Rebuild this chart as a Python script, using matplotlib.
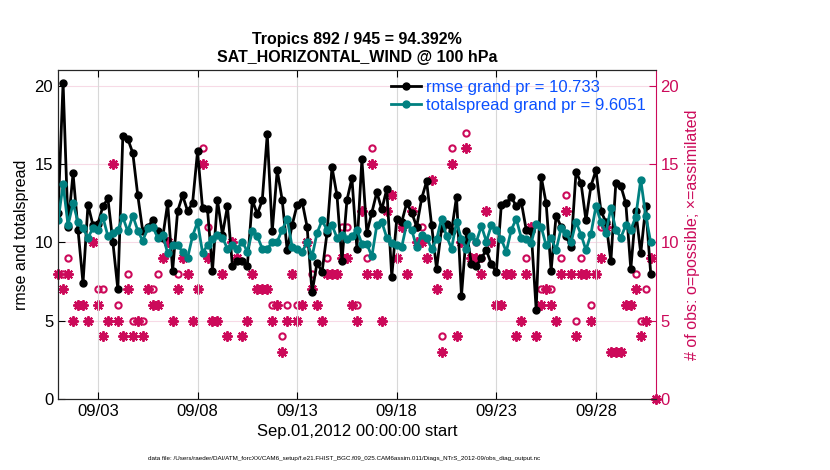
import matplotlib
matplotlib.use("Agg")
import matplotlib.pyplot as plt
import matplotlib.dates as mdates
import numpy as np
import pandas as pd

plt.rcParams['font.family'] = ['Liberation Sans', 'DejaVu Sans']

# 6-hourly bins, Sep 1 00Z to Oct 1 00Z
times = pd.date_range('2012-09-01 00:00', periods=121, freq='6h')

rmse = [11.9, 20.2, 11.0, 14.4, 10.8, 7.4, 12.4, 11.1, 11.2, 12.3,
        12.8, 10.0, 7.0, 16.8, 16.6, 15.7, 13.0, 10.7, 11.0, 11.4,
        10.7, 10.3, 12.5, 8.2, 12.0, 13.0, 12.0, 12.5, 15.8, 12.2,
        12.1, 8.2, 12.7, 10.5, 12.3, 8.5, 8.8, 8.8, 8.5, 12.7,
        11.8, 12.7, 16.9, 10.7, 14.6, 12.7, 9.5, 11.1, 12.4, 12.6,
        11.0, 6.8, 8.7, 8.1, 10.6, 14.8, 13.0, 8.8, 12.7, 14.1,
        9.6, 15.3, 10.6, 11.9, 13.2, 12.1, 13.4, 7.8, 11.5, 11.3,
        12.5, 11.9, 11.0, 12.8, 13.9, 11.1, 8.3, 10.9, 11.2, 10.7,
        12.9, 6.6, 10.7, 8.6, 8.5, 9.0, 9.5, 8.6, 8.1, 12.4,
        12.5, 12.9, 12.3, 12.6, 10.8, 10.7, 5.7, 14.2, 12.5, 8.2,
        11.7, 11.0, 10.4, 9.7, 14.5, 13.8, 11.4, 13.6, 14.6, 12.0,
        11.3, 8.8, 13.8, 13.6, 12.5, 8.3, 12.0, 9.3, 12.3, 8.0,
        np.nan]

spread = [11.4, 13.7, 11.1, 12.5, 11.3, 10.9, 10.3, 10.9, 10.8, 11.6,
          10.4, 10.6, 10.8, 11.6, 10.7, 11.7, 10.75, 10.1, 10.9, 11.0,
          10.3, 10.5, 9.3, 9.8, 9.8, 9.4, 9.0, 10.4, 11.3, 9.35,
          9.8, 10.2, 10.5, 10.3, 9.6, 9.8, 9.6, 10.05, 9.4, 10.7,
          10.4, 9.6, 9.6, 10.0, 10.05, 10.8, 11.5, 9.7, 9.6, 9.4,
          10.0, 9.1, 10.6, 11.4, 10.8, 11.1, 10.3, 10.5, 10.2, 10.4,
          10.8, 9.9, 9.9, 9.1, 11.1, 11.3, 10.3, 9.95, 9.8, 9.7,
          11.2, 10.8, 9.7, 10.5, 10.3, 9.6, 10.2, 11.5, 10.4, 9.6,
          11.3, 10.2, 9.6, 10.4, 10.05, 11.05, 10.05, 11.1, 10.8, 10.2,
          9.4, 10.8, 11.5, 10.3, 10.2, 9.95, 11.2, 11.0, 9.8, 10.3,
          9.5, 10.9, 10.6, 10.0, 11.3, 10.5, 9.5, 10.55, 12.3, 11.3,
          10.6, 12.2, 10.8, 10.3, 11.1, 10.8, 11.65, 14.0, 11.7, 10.0,
          np.nan]

nposs = [8, 8, 9, 5, 6, 6, 5, 10, 7, 7,
         5, 15, 6, 4, 8, 5, 5, 5, 7, 7,
         8, 9, 10, 5, 8, 9, 8, 5, 7, 16,
         11, 5, 5, 8, 4, 10, 9, 4, 5, 8,
         7, 7, 7, 6, 6, 4, 6, 8, 6, 6,
         10, 8, 6, 5, 9, 8, 8, 11, 11, 6,
         6, 12, 9, 16, 8, 5, 12, 13, 9, 11,
         8, 12, 11, 11, 9, 14, 7, 4, 8, 16,
         4, 10, 17, 9, 10, 9, 12, 10, 6, 6,
         8, 8, 4, 5, 9, 11, 4, 7, 7, 7,
         5, 9, 13, 10, 5, 9, 8, 6, 8, 11,
         11, 3, 3, 3, 6, 6, 8, 5, 7, 9,
         0]

nused = [8, 7, 8, 5, 6, 6, 5, 10, 6, 4,
         5, 15, 5, 4, 7, 4, 5, 4, 7, 6,
         6, 9, 10, 5, 7, 9, 8, 5, 7, 15,
         9, 5, 5, 8, 4, 10, 9, 4, 5, 8,
         7, 7, 7, 5, 6, 3, 5, 8, 5, 6,
         10, 7, 6, 5, 8, 8, 8, 9, 9, 6,
         5, 12, 8, 15, 8, 5, 12, 13, 9, 11,
         8, 12, 10, 10, 9, 14, 7, 3, 8, 15,
         4, 10, 16, 9, 9, 8, 12, 10, 6, 6,
         8, 8, 4, 5, 8, 11, 4, 6, 7, 6,
         5, 8, 12, 8, 4, 8, 8, 5, 8, 9,
         11, 3, 3, 3, 6, 6, 7, 4, 5, 9,
         0]

title = "Tropics 892 / 945 = 94.392%\nSAT_HORIZONTAL_WIND @ 100 hPa"
rmse_label = "rmse grand pr = 10.733"
spread_label = "totalspread grand pr = 9.6051"
datafile = ("data file: /Users/raeder/DAI/ATM_forcXX/CAM6_setup/"
            "f.e21.FHIST_BGC.f09_025.CAM6assim.011/Diags_NTrS_2012-09/obs_diag_output.nc")

magenta = '#cc0a5a'
teal = '#008080'

fig = plt.figure(figsize=(8.3, 4.7), dpi=100)
ax = fig.add_axes([0.070, 0.151, 0.720, 0.700])
ax2 = ax.twinx()

# obs counts on the right axis (drawn underneath)
ax2.plot(times, nposs, linestyle='none', marker='o', markersize=4.5,
         markerfacecolor='none', markeredgecolor=magenta, markeredgewidth=1.5,
         clip_on=False)
# matlab-style asterisk: + and x on top of each other
ax2.plot(times, nused, linestyle='none', marker=(8, 2, 0), markersize=7.5,
         color=magenta, markeredgewidth=1.4, clip_on=False)
ax2.set_ylim(0, 21)
ax2.set_yticks([0, 5, 10, 15, 20])
ax2.tick_params(axis='y', colors=magenta, direction='in', labelsize=12, length=5)
ax2.spines['right'].set_color(magenta)
ax2.set_ylabel("# of obs: o=possible; \u00d7=assimilated", color=magenta, fontsize=11.5)
ax2.grid(axis='y', color=magenta, alpha=0.15, linewidth=0.8)

ax.set_zorder(ax2.get_zorder() + 1)
ax.patch.set_visible(False)

ax.plot(times, rmse, color='black', linewidth=2, marker='o', markersize=5,
        label=rmse_label)
ax.plot(times, spread, color=teal, linewidth=2, marker='o', markersize=5,
        label=spread_label)

ax.set_xlim(times[0], times[-1])
ax.set_ylim(0, 21)
ax.set_yticks([0, 5, 10, 15, 20])
ax.xaxis.set_major_locator(mdates.DayLocator(bymonthday=[3, 8, 13, 18, 23, 28]))
ax.xaxis.set_major_formatter(mdates.DateFormatter('%m/%d'))
ax.tick_params(direction='in', labelsize=12, length=5, top=True)
ax.grid(axis='x', color='#d8d8d8', linewidth=0.8)
ax.set_ylabel("rmse and totalspread", fontsize=11.5)
ax.set_xlabel("Sep.01,2012 00:00:00 start", fontsize=12)
ax.set_title(title, fontsize=11.5, fontweight='bold', pad=6)
for side in ['left', 'top', 'bottom']:
    ax.spines[side].set_color('#262626')
ax.spines['right'].set_visible(False)

leg = ax.legend(loc='upper right', bbox_to_anchor=(1.0, 1.0), frameon=False,
                fontsize=12, handlelength=1.8, handletextpad=0.3,
                borderaxespad=0.2, labelspacing=0.15)
for t in leg.get_texts():
    t.set_color('#0a50ff')

fig.text(0.415, 0.022, datafile, fontsize=4.5, ha='center')

fig.savefig('out.png', dpi=100)
